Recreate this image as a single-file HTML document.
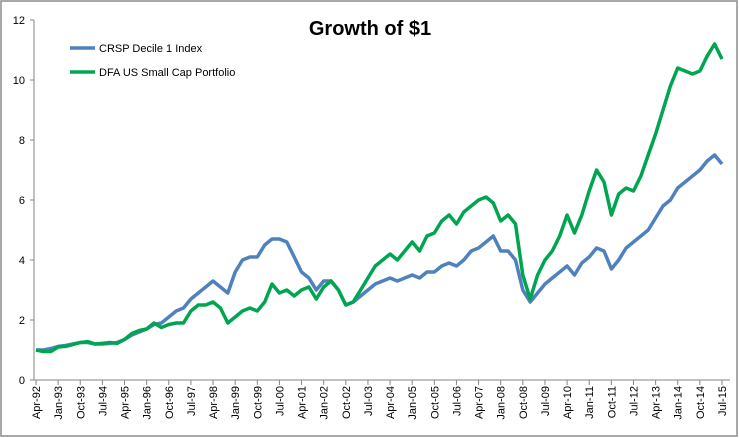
<!DOCTYPE html>
<html><head><meta charset="utf-8"><style>
html,body{margin:0;padding:0;background:#fff;}
svg{display:block;font-family:"Liberation Sans",sans-serif;}
</style></head><body>
<svg id="chart" width="739" height="438" viewBox="0 0 739 438">
<rect x="1" y="1" width="736" height="435" fill="#fff" stroke="#8c8c8c" stroke-width="1.5"/>
<text x="370" y="35" text-anchor="middle" font-size="20" font-weight="bold" fill="#000">Growth of $1</text>
<g id="grid"></g>
<g id="axes"></g>
<g id="series"></g>
<g>
<line x1="70" y1="48" x2="95" y2="48" stroke="#4f81bd" stroke-width="3.5"/>
<text x="99" y="52" font-size="11">CRSP Decile 1 Index</text>
<line x1="70" y1="72" x2="95" y2="72" stroke="#00a550" stroke-width="3.5"/>
<text x="99" y="76" font-size="11">DFA US Small Cap Portfolio</text>
</g>
</svg>
<script>
const yTicks=[0,2,4,6,8,10,12];
const xTickLabels=["Apr-92","Jan-93","Oct-93","Jul-94","Apr-95","Jan-96","Oct-96","Jul-97","Apr-98","Jan-99","Oct-99","Jul-00","Apr-01","Jan-02","Oct-02","Jul-03","Apr-04","Jan-05","Oct-05","Jul-06","Apr-07","Jan-08","Oct-08","Jul-09","Apr-10","Jan-11","Oct-11","Jul-12","Apr-13","Jan-14","Oct-14","Jul-15"];
// quarterly values starting Apr-92
const crsp=[1.0,1.0,1.05,1.12,1.15,1.2,1.25,1.25,1.2,1.2,1.22,1.25,1.35,1.5,1.6,1.7,1.85,1.9,2.1,2.3,2.4,2.7,2.9,3.1,3.3,3.1,2.9,3.6,4.0,4.1,4.1,4.5,4.7,4.7,4.6,4.1,3.6,3.4,3.0,3.3,3.3,3.0,2.5,2.6,2.8,3.0,3.2,3.3,3.4,3.3,3.4,3.5,3.4,3.6,3.6,3.8,3.9,3.8,4.0,4.3,4.4,4.6,4.8,4.3,4.3,4.0,3.0,2.6,2.9,3.2,3.4,3.6,3.8,3.5,3.9,4.1,4.4,4.3,3.7,4.0,4.4,4.6,4.8,5.0,5.4,5.8,6.0,6.4,6.6,6.8,7.0,7.3,7.5,7.2];
const dfa=[1.0,0.95,0.95,1.1,1.12,1.18,1.25,1.28,1.2,1.22,1.25,1.22,1.35,1.55,1.65,1.7,1.9,1.75,1.85,1.9,1.9,2.3,2.5,2.5,2.6,2.4,1.9,2.1,2.3,2.4,2.3,2.6,3.2,2.9,3.0,2.8,3.0,3.1,2.7,3.1,3.3,3.0,2.5,2.6,3.0,3.4,3.8,4.0,4.2,4.0,4.3,4.6,4.3,4.8,4.9,5.3,5.5,5.2,5.6,5.8,6.0,6.1,5.9,5.3,5.5,5.2,3.5,2.7,3.5,4.0,4.3,4.8,5.5,4.9,5.5,6.3,7.0,6.6,5.5,6.2,6.4,6.3,6.8,7.5,8.2,9.0,9.8,10.4,10.3,10.2,10.3,10.8,11.2,10.7];
const NS="http://www.w3.org/2000/svg";
const X0=36,X1=722,Y0=380,Y12=20;
const monthsTotal=279;
function xMonth(m){return X0+(X1-X0)*m/monthsTotal;}
function yVal(v){return Y0-(Y0-Y12)*v/12;}
function mk(tag,attrs,parent){const e=document.createElementNS(NS,tag);for(const k in attrs)e.setAttribute(k,attrs[k]);parent.appendChild(e);return e;}
const axes=document.getElementById('axes');
const yAxis=mk('line',{x1:34,y1:Y12,x2:34,y2:Y0,stroke:'#868686','stroke-width':1},axes);


const xAxis=mk('line',{x1:34,y1:Y0,x2:730,y2:Y0,stroke:'#868686','stroke-width':1},axes);


yTicks.forEach(v=>{
  const y=yVal(v);
  const t=mk('line',{x1:30,y1:y,x2:34,y2:y,stroke:'#868686'},axes);
  
  
  const l=mk('text',{x:25,y:y+4,'text-anchor':'end','font-size':11,fill:'#000'},axes);
  l.textContent=v;
  
  
});
xTickLabels.forEach((s,i)=>{
  const x=xMonth(i*9);
  const t=mk('line',{x1:x,y1:Y0,x2:x,y2:Y0+5,stroke:'#868686'},axes);
  
  
  const l=mk('text',{x:0,y:0,'text-anchor':'end','font-size':11,fill:'#000',transform:`translate(${x+4},${Y0+6}) rotate(-90)`},axes);
  l.textContent=s;
  
  
});
const series=document.getElementById('series');
function line(arr,color,name){
  const d=arr.map((v,i)=>(i?'L':'M')+xMonth(i*3).toFixed(1)+','+yVal(v).toFixed(1)).join(' ');
  const p=mk('path',{d:d,fill:'none',stroke:color,'stroke-width':3.5,'stroke-linejoin':'round'},series);
  
  
}
line(crsp,'#4f81bd','crsp-decile-1-line');
line(dfa,'#00a550','dfa-small-cap-line');
</script>
</body></html>
